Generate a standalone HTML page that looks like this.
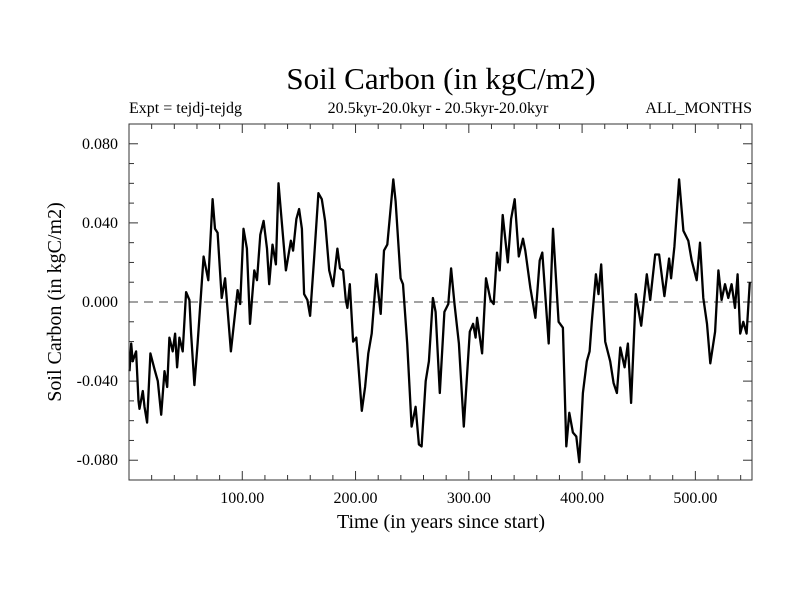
<!DOCTYPE html>
<html><head><meta charset="utf-8"><style>
body{margin:0;background:#fff}
svg{display:block;font-family:"Liberation Serif",serif}
</style></head><body>
<svg id="chart" width="800" height="600">
<rect width="800" height="600" fill="#fff"/>
<text x="441" y="89" font-size="31" text-anchor="middle">Soil Carbon (in kgC/m2)</text>
<text x="129" y="113" font-size="16">Expt = tejdj-tejdg</text>
<text x="438" y="113" font-size="16" text-anchor="middle">20.5kyr-20.0kyr - 20.5kyr-20.0kyr</text>
<text x="752" y="113" font-size="16" text-anchor="end">ALL_MONTHS</text>
<text transform="translate(61,302) rotate(-90)" font-size="20" text-anchor="middle">Soil Carbon (in kgC/m2)</text>
<text x="441" y="528" font-size="20" text-anchor="middle">Time (in years since start)</text>
<g id="ticks"></g>
<line x1="129" x2="752" y1="302" y2="302" stroke="#444" stroke-width="1" stroke-dasharray="9,6"/>
<path id="series" fill="none" stroke="#000" stroke-width="2.3" stroke-linejoin="round"/>
<rect x="129" y="124" width="623" height="356" fill="none" stroke="#333" stroke-width="1"/>
</svg>
<script>
const years=[0.4,1.9,3.3,6.3,8.4,9.3,12.2,13.7,16.0,18.9,22.5,25.4,28.4,31.3,33.7,35.7,38.6,40.7,42.5,44.5,47.4,50.4,53.3,54.8,57.7,60.6,65.9,70.0,73.8,75.9,78.2,81.8,84.8,90.0,95.9,98.2,101.1,104.1,106.8,110.6,113.0,115.9,118.8,121.8,123.8,126.7,129.7,132.0,138.5,142.9,144.9,147.8,150.2,152.6,154.6,157.5,159.9,163.4,167.2,170.2,173.1,176.7,180.2,184.0,186.3,189.0,191.4,192.8,194.9,197.8,200.7,205.5,208.4,211.3,214.3,218.3,222.2,225.1,228.0,233.3,235.4,239.8,241.9,245.6,249.5,253.0,255.9,258.3,261.9,264.8,268.3,270.7,274.4,278.4,281.9,284.4,287.4,291.2,295.6,300.9,303.8,306.0,307.3,311.7,315.2,319.1,322.0,324.9,327.3,329.9,334.4,337.3,340.5,344.1,347.8,349.9,354.4,358.8,362.6,364.9,370.5,374.3,379.3,383.1,386.1,388.7,391.9,394.9,397.5,400.7,404.2,406.6,408.6,412.2,414.5,416.9,420.4,424.8,427.8,430.7,433.7,437.5,440.4,443.3,447.4,452.2,457.1,460.1,464.5,468.0,472.7,476.8,478.6,481.5,485.6,489.4,493.8,496.8,501.2,504.1,507.0,510.3,513.2,517.4,520.3,523.2,526.2,529.1,532.0,535.0,537.3,539.6,542.3,545.2,548.1];
const values=[-0.035,-0.021,-0.030,-0.025,-0.050,-0.054,-0.045,-0.053,-0.061,-0.026,-0.034,-0.040,-0.057,-0.035,-0.043,-0.018,-0.025,-0.016,-0.033,-0.018,-0.025,0.005,0.001,-0.016,-0.042,-0.021,0.023,0.011,0.052,0.037,0.035,0.002,0.012,-0.025,0.006,-0.001,0.037,0.027,-0.011,0.016,0.011,0.034,0.041,0.027,0.009,0.029,0.019,0.060,0.016,0.031,0.026,0.042,0.047,0.037,0.004,0.001,-0.007,0.022,0.055,0.052,0.041,0.016,0.008,0.027,0.017,0.016,0.001,-0.003,0.009,-0.020,-0.018,-0.055,-0.043,-0.026,-0.016,0.014,-0.006,0.026,0.029,0.062,0.051,0.012,0.009,-0.021,-0.063,-0.053,-0.072,-0.073,-0.040,-0.030,0.002,-0.005,-0.046,-0.005,-0.001,0.017,-0.001,-0.021,-0.063,-0.015,-0.011,-0.018,-0.008,-0.026,0.012,0.001,-0.001,0.025,0.016,0.044,0.020,0.042,0.052,0.023,0.032,0.026,0.007,-0.008,0.021,0.025,-0.021,0.037,-0.010,-0.013,-0.073,-0.056,-0.066,-0.068,-0.081,-0.046,-0.030,-0.025,-0.010,0.014,0.004,0.019,-0.020,-0.030,-0.041,-0.046,-0.023,-0.033,-0.021,-0.051,0.004,-0.012,0.014,0.001,0.024,0.024,0.003,0.022,0.012,0.028,0.062,0.036,0.031,0.021,0.011,0.030,0.002,-0.011,-0.031,-0.015,0.016,0.001,0.009,0.002,0.009,-0.003,0.014,-0.016,-0.010,-0.016,0.010];
const yTicks=[-0.08,-0.04,0,0.04,0.08];
const yTickLabels=["-0.080","-0.040","0.000","0.040","0.080"];
const xTicks=[100,200,300,400,500];
const xTickLabels=["100.00","200.00","300.00","400.00","500.00"];
const X0=129,X1=752,Y0=124,Y1=480,xmin=0,xmax=550,ymin=-0.09,ymax=0.09;
function sx(v){return X0+(v-xmin)/(xmax-xmin)*(X1-X0);}
function sy(v){return Y1-(v-ymin)/(ymax-ymin)*(Y1-Y0);}
const NS="http://www.w3.org/2000/svg";
const g=document.getElementById('ticks');
function line(x1,y1,x2,y2){const l=document.createElementNS(NS,'line');l.setAttribute('x1',x1);l.setAttribute('y1',y1);l.setAttribute('x2',x2);l.setAttribute('y2',y2);l.setAttribute('stroke','#333');


g.appendChild(l);}
function txt(x,y,s,anchor){const t=document.createElementNS(NS,'text');t.setAttribute('x',x);t.setAttribute('y',y);t.setAttribute('font-size','16');t.setAttribute('text-anchor',anchor);t.textContent=s;


g.appendChild(t);}
for(let v=20;v<xmax;v+=20){const x=sx(v);const big=v%100===0;const L=big?9:5;line(x,Y1,x,Y1-L);line(x,Y0,x,Y0+L);}
for(let i=-8;i<=8;i++){const v=i*0.01;const y=sy(v);const big=i%4===0;const L=big?9:5;line(X0,y,X0+L,y);line(X1,y,X1-L,y);}
xTicks.forEach((v,i)=>txt(sx(v),503,xTickLabels[i],'middle'));
yTicks.forEach((v,i)=>txt(118,sy(v)+5,yTickLabels[i],'end'));
let d='';
years.forEach((t,i)=>{d+=(i?'L':'M')+sx(t).toFixed(1)+','+sy(values[i]).toFixed(1);});
document.getElementById('series').setAttribute('d',d);
</script>
</body></html>
